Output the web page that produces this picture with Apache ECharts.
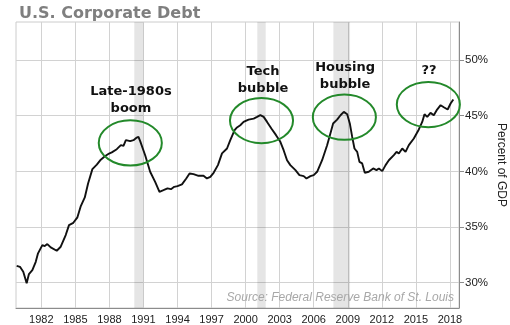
<!DOCTYPE html>
<html>
<head>
<meta charset="utf-8">
<title>U.S. Corporate Debt</title>
<script src="https://cdn.jsdelivr.net/npm/echarts@6/dist/echarts.min.js"></script>
<style>
  html, body { margin: 0; padding: 0; background: #fff; }
  #chart { width: 510px; height: 325px; }
</style>
</head>
<body>
<div id="chart"></div>
<script>
// Nonfinancial corporate debt as a share of GDP (decimal year, percent)
const years = [
  1979.83, 1980.12, 1980.41, 1980.71, 1980.91, 1981.21, 1981.51, 1981.71, 1982.09, 1982.30,
  1982.53, 1982.83, 1983.36, 1983.71, 1984.15, 1984.44, 1984.82, 1985.18, 1985.48, 1985.83,
  1986.12, 1986.50, 1986.89, 1987.24, 1987.60, 1987.97, 1988.21, 1988.65, 1989.01, 1989.24,
  1989.45, 1989.83, 1990.12, 1990.36, 1990.56, 1990.71, 1991.15, 1991.59, 1992.03, 1992.41,
  1992.76, 1993.12, 1993.42, 1993.71, 1994.00, 1994.39, 1994.77, 1995.06, 1995.41, 1995.85,
  1996.29, 1996.59, 1996.89, 1997.18, 1997.56, 1997.92, 1998.36, 1998.65, 1999.03, 1999.24,
  1999.53, 1999.82, 2000.26, 2000.71, 2001.01, 2001.30, 2001.59, 2001.89, 2002.27, 2002.68,
  2003.06, 2003.35, 2003.65, 2003.94, 2004.39, 2004.74, 2005.12, 2005.36, 2005.71, 2006.00,
  2006.30, 2006.74, 2007.18, 2007.47, 2007.71, 2008.06, 2008.36, 2008.65, 2008.95, 2009.18,
  2009.39, 2009.59, 2009.83, 2010.03, 2010.27, 2010.50, 2010.85, 2011.24, 2011.53, 2011.74,
  2012.04, 2012.33, 2012.62, 2013.06, 2013.30, 2013.50, 2013.80, 2014.09, 2014.38, 2014.82,
  2015.26, 2015.56, 2015.76, 2016.00, 2016.29, 2016.58, 2016.87, 2017.18, 2017.50, 2017.80,
  2018.06, 2018.30
];
const debtPct = [
  31.52, 31.43, 30.99, 29.95, 30.78, 31.14, 31.88, 32.64, 33.38, 33.29,
  33.47, 33.17, 32.87, 33.23, 34.28, 35.17, 35.38, 35.87, 36.88, 37.66,
  38.91, 40.20, 40.60, 41.05, 41.35, 41.60, 41.70, 41.99, 42.35, 42.29,
  42.80, 42.71, 42.80, 43.00, 43.09, 42.71, 41.45, 39.96, 39.06, 38.16,
  38.31, 38.47, 38.40, 38.61, 38.67, 38.83, 39.36, 39.81, 39.75, 39.60,
  39.60, 39.36, 39.50, 39.87, 40.56, 41.61, 42.05, 42.80, 43.70, 43.94,
  44.14, 44.44, 44.65, 44.74, 44.89, 45.04, 44.89, 44.44, 43.85, 43.25,
  42.65, 41.90, 41.00, 40.56, 40.11, 39.66, 39.57, 39.36, 39.57, 39.66,
  39.96, 41.00, 42.35, 43.40, 44.30, 44.65, 45.04, 45.34, 45.13, 44.30,
  43.09, 42.05, 41.75, 40.85, 40.71, 39.87, 39.96, 40.26, 40.11, 40.26,
  40.02, 40.56, 41.00, 41.45, 41.75, 41.61, 42.05, 41.75, 42.35, 42.95,
  43.76, 44.44, 45.13, 44.89, 45.25, 45.04, 45.55, 45.94, 45.73, 45.55,
  46.09, 46.45
];

// Axis tick values
const yearTicks = [1982, 1985, 1988, 1991, 1994, 1997, 2000, 2003, 2006, 2009, 2012, 2015, 2018];
const pctTicks = [30, 35, 40, 45, 50];

// Recession periods (start, end) in decimal years
const recessions = [[1990.19, 1990.99], [2001.03, 2001.77], [2007.73, 2009.20]];

// Callout labels, anchored in data units (year, percent)
const calloutText = ['Late-1980s\nboom', 'Tech\nbubble', 'Housing\nbubble', '??'];
const calloutAt = [[1989.90, 46.39], [2001.53, 48.18], [2008.76, 48.54], [2016.16, 49.08]];
// Ellipses around each peak: centre (year, percent)
const ringAt = [[1989.84, 42.55], [2001.40, 44.56], [2008.70, 44.86], [2016.10, 46.00]];
const ringRadius = [2.78, 2.03]; // half-width in years, half-height in percent

const X_MIN = 1979.77, X_MAX = 2018.80;
const Y_MIN = 27.73, Y_MAX = 53.41;

const chart = echarts.init(document.getElementById('chart'), null, { renderer: 'canvas' });

const gridLine = { show: true, lineStyle: { color: '#d2d2d2', width: 1 } };

chart.setOption({
  animation: false,
  backgroundColor: '#fff',
  title: {
    text: 'U.S. Corporate Debt',
    left: 14,
    top: 1,
    textStyle: { fontFamily: 'DejaVu Sans', fontWeight: 'bold', fontSize: 16, color: '#7f7f7f' }
  },
  grid: {
    left: 16, right: 51, top: 22, bottom: 17,
    show: true, borderColor: '#cccccc', borderWidth: 1,
    containLabel: false, outerBoundsMode: 'none'
  },
  xAxis: {
    type: 'value',
    min: X_MIN, max: X_MAX,
    axisLine: { show: true, onZero: false, lineStyle: { color: '#8c8c8c', width: 1 } },
    axisTick: { show: false, customValues: yearTicks },
    axisLabel: {
      customValues: yearTicks,
      formatter: v => String(Math.round(v)),
      color: '#222', fontSize: 11, fontFamily: 'Liberation Sans', margin: 6
    },
    splitLine: gridLine
  },
  yAxis: {
    type: 'value',
    position: 'right',
    min: Y_MIN, max: Y_MAX,
    name: 'Percent of GDP',
    nameLocation: 'middle',
    nameRotate: -90,
    nameGap: 36,
    nameMoveOverlap: false,
    nameTextStyle: { color: '#222', fontSize: 12, fontFamily: 'Liberation Sans' },
    axisLine: { show: true, lineStyle: { color: '#8c8c8c', width: 1 } },
    axisTick: { show: true, length: 5, lineStyle: { color: '#8c8c8c' }, customValues: pctTicks },
    axisLabel: {
      customValues: pctTicks,
      formatter: v => Math.round(v) + '%',
      color: '#222', fontSize: 11.5, fontFamily: 'Liberation Sans', margin: 6
    },
    splitLine: gridLine
  },
  series: [{
    type: 'line',
    data: years.map((y, i) => [y, debtPct[i]]),
    showSymbol: false,
    symbol: 'none',
    lineStyle: { color: '#111', width: 1.9 },
    z: 3,
    markArea: {
      silent: true,
      itemStyle: { color: 'rgba(0,0,0,0.1)' },
      data: recessions.map(r => [{ xAxis: r[0] }, { xAxis: r[1] }])
    }
  }]
});

// Annotation layer: rings and callout text positioned from data coordinates
const toPx = p => chart.convertToPixel({ gridIndex: 0 }, p);
const graphics = [];
ringAt.forEach(c => {
  const centre = toPx(c);
  const edge = toPx([c[0] + ringRadius[0], c[1] + ringRadius[1]]);
  graphics.push({
    type: 'ellipse',
    z: 10,
    shape: { cx: centre[0], cy: centre[1], rx: Math.abs(edge[0] - centre[0]), ry: Math.abs(edge[1] - centre[1]) },
    style: { fill: 'none', stroke: '#23892a', lineWidth: 2 }
  });
});
calloutText.forEach((t, i) => {
  const p = toPx(calloutAt[i]);
  graphics.push({
    type: 'text',
    z: 10,
    x: p[0], y: p[1],
    style: {
      text: t,
      align: 'center', verticalAlign: 'middle',
      font: 'bold 13px "DejaVu Sans"',
      lineHeight: 16.5,
      fill: '#111'
    }
  });
});
graphics.push({
  type: 'text',
  z: 10,
  right: 56,
  top: 292,
  style: {
    text: 'Source: Federal Reserve Bank of St. Louis',
    font: 'italic 12px "Liberation Sans"',
    fill: '#a8a8a8'
  }
});
chart.setOption({ graphic: graphics });
</script>
</body>
</html>
